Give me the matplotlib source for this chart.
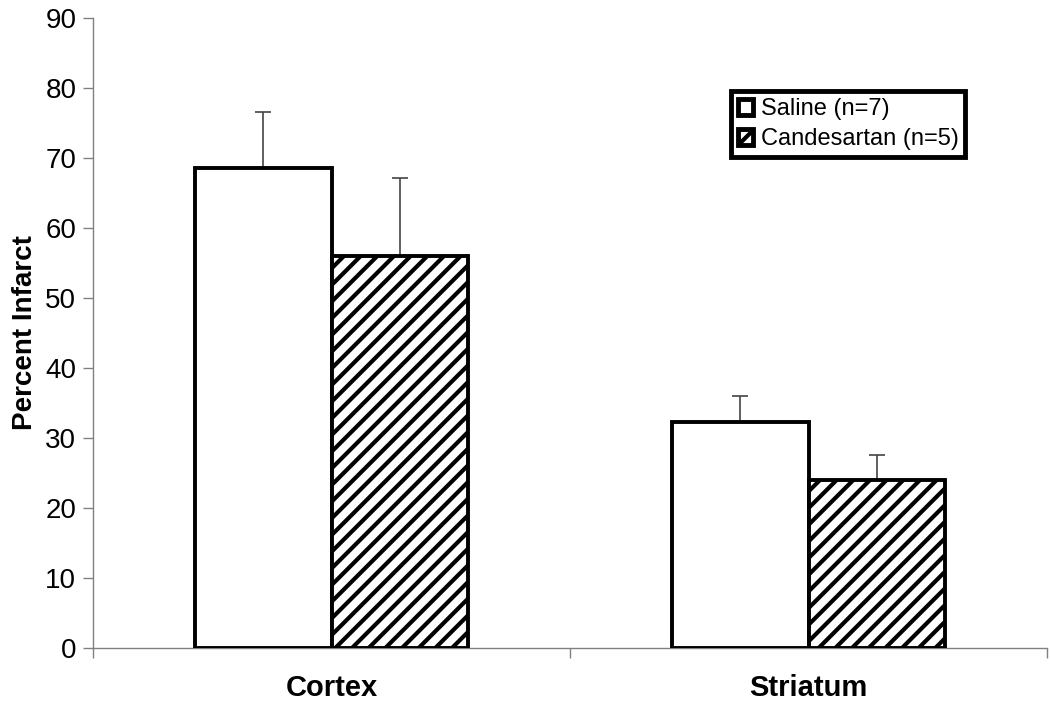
import matplotlib
matplotlib.use("Agg")
import matplotlib.pyplot as plt
import numpy as np
from matplotlib.patches import Patch

plt.rcParams['font.family'] = ['Liberation Sans', 'DejaVu Sans']
plt.rcParams['hatch.linewidth'] = 3.0

categories = ["Cortex", "Striatum"]
series_names = ["Saline (n=7)", "Candesartan (n=5)"]
saline = [68.6, 32.3]
saline_err = [8.0, 3.7]
candesartan = [56.0, 24.0]
candesartan_err = [11.1, 3.6]
yticks = [0, 10, 20, 30, 40, 50, 60, 70, 80, 90]

fig = plt.figure(figsize=(10.5, 7.14), dpi=100)
ax = fig.add_axes([93/1050, 1 - 648/714, (1047-93)/1050, (648-18)/714])

x = np.arange(len(categories))
w = 0.287
bw = 2.8
ax.bar(x - w/2, saline, w, color='white', edgecolor='black', linewidth=bw, zorder=3)
ax.bar(x + w/2, candesartan, w, color='white', edgecolor='black', linewidth=bw, hatch='//', zorder=3)
ax.errorbar(x - w/2, saline, yerr=[np.zeros(2), saline_err], fmt='none', ecolor='#444444',
            elinewidth=1.2, capsize=6, capthick=1.2, zorder=2)
ax.errorbar(x + w/2, candesartan, yerr=[np.zeros(2), candesartan_err], fmt='none', ecolor='#444444',
            elinewidth=1.2, capsize=6, capthick=1.2, zorder=2)

ax.set_xlim(-0.5, 1.5)
ax.set_ylim(0, 90)
ax.set_yticks(yticks)
ax.set_yticklabels([str(t) for t in yticks], fontsize=20)
ax.set_xticks(x)
ax.set_xticklabels(categories, fontsize=21, fontweight='bold')
ax.tick_params(axis='x', length=0, pad=19)
ax.set_xticks([-0.5, 0.5, 1.5], minor=True)
ax.tick_params(axis='x', which='minor', length=7, color='#808080', width=1)
ax.tick_params(axis='y', length=7, color='#808080', width=1, pad=5)
for s in ['top', 'right']:
    ax.spines[s].set_visible(False)
for s in ['left', 'bottom']:
    ax.spines[s].set_color('#808080')
    ax.spines[s].set_linewidth(1)
ax.set_ylabel("Percent Infarct", fontsize=20, fontweight='bold', labelpad=5)

handles = [Patch(facecolor='white', edgecolor='black', linewidth=3.5),
           Patch(facecolor='white', edgecolor='black', linewidth=3.5, hatch='//')]
leg = ax.legend(handles, series_names, loc='upper left', bbox_to_anchor=(731/1050, 1 - 91/714),
                bbox_transform=fig.transFigure, fontsize=17, handlelength=0.65, handleheight=0.65,
                handletextpad=0.3, borderpad=0.3, labelspacing=0.35, fancybox=False,
                frameon=True, borderaxespad=0, framealpha=1)
leg.get_frame().set_edgecolor('black')
leg.get_frame().set_linewidth(3.5)

fig.savefig("out.png", dpi=100)
